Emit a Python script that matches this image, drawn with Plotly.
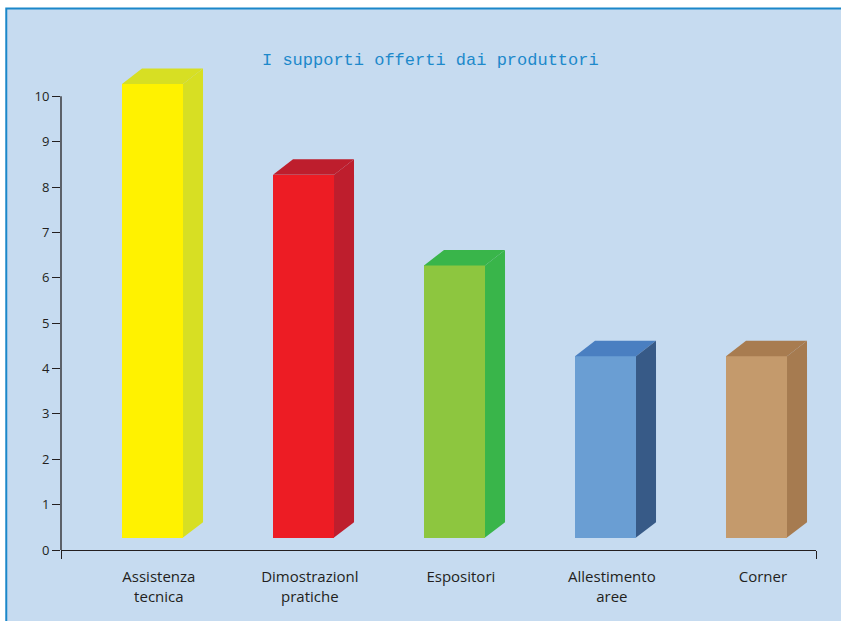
import plotly.graph_objects as go

# Chart data
categories = ["Assistenza<br>tecnica", "Dimostrazionl<br>pratiche", "Espositori",
              "Allestimento<br>aree", "Corner"]
values = [10, 8, 6, 4, 4]
y_ticks = list(range(0, 11))

# Face colours of each 3D column: front, top, side
front_colors = ["#fff200", "#ed1c24", "#8dc63f", "#6a9ed3", "#c49a6c"]
top_colors = ["#d7df23", "#be1e2d", "#39b54a", "#4a7fc1", "#a87c50"]
side_colors = ["#d7df23", "#be1e2d", "#39b54a", "#375a87", "#a67b50"]

# Geometry in axis units
BAR_START = 0.404     # left edge of the front face inside a category slot
BAR_WIDTH = 0.404
DEPTH_X = 0.1325
DEPTH_Y = 0.34
BASE = 0.273          # columns float slightly above the zero line
LABEL_POS = 0.648

INK = "#231f20"

fig = go.Figure()

# Front faces
fig.add_trace(go.Bar(
    x=[i + BAR_START + BAR_WIDTH / 2 for i in range(len(values))],
    y=values,
    base=[BASE] * len(values),
    width=BAR_WIDTH,
    marker=dict(color=front_colors, line=dict(width=0)),
    showlegend=False,
    hoverinfo="skip",
))

# Top and side faces, computed from each value
for i, v in enumerate(values):
    x0 = i + BAR_START
    x1 = x0 + BAR_WIDTH
    top = BASE + v
    fig.add_trace(go.Scatter(
        x=[x0, x1, x1 + DEPTH_X, x0 + DEPTH_X, x0],
        y=[top, top, top + DEPTH_Y, top + DEPTH_Y, top],
        fill="toself", fillcolor=top_colors[i], mode="lines",
        line=dict(width=0, color=top_colors[i]),
        showlegend=False, hoverinfo="skip",
    ))
    fig.add_trace(go.Scatter(
        x=[x1, x1 + DEPTH_X, x1 + DEPTH_X, x1, x1],
        y=[BASE, BASE + DEPTH_Y, top + DEPTH_Y, top, BASE],
        fill="toself", fillcolor=side_colors[i], mode="lines",
        line=dict(width=0, color=side_colors[i]),
        showlegend=False, hoverinfo="skip",
    ))

# Light blue panel with a blue frame
fig.add_shape(type="rect", xref="paper", yref="paper",
              x0=-0.0725, x1=1.1, y0=-0.25, y1=1.105,
              fillcolor="#c6dbf0", line=dict(color="#1b87c9", width=2),
              layer="below")

# Vertical axis line running from 0 to 10
fig.add_shape(type="line", xref="paper", yref="y",
              x0=0, x1=0, y0=0, y1=10,
              line=dict(color=INK, width=1.3), layer="above")

fig.add_annotation(
    text="I supporti offerti dai produttori",
    xref="paper", yref="paper", x=0.49, y=1.0,
    xanchor="center", yanchor="middle", showarrow=False,
    font=dict(family="Liberation Mono", size=17, color="#1d89cb"),
)

fig.update_layout(
    width=841, height=621,
    margin=dict(l=61, r=25, t=60, b=71),
    paper_bgcolor="white",
    plot_bgcolor="rgba(0,0,0,0)",
    bargap=0,
    showlegend=False,
    xaxis=dict(
        range=[0, 5],
        tickmode="array",
        tickvals=[i + LABEL_POS for i in range(len(categories))],
        ticktext=categories,
        ticks="",
        ticklabelstandoff=13,
        tickfont=dict(family="Open Sans", size=15, color=INK),
        showline=True, linecolor=INK, linewidth=1.3,
        showgrid=False, zeroline=False,
        minor=dict(tickmode="array", tickvals=[0, 5], ticks="outside",
                   ticklen=8, tickwidth=1.3, tickcolor=INK, showgrid=False),
        fixedrange=True,
    ),
    yaxis=dict(
        range=[0, 10.8],
        tickmode="array",
        tickvals=y_ticks,
        ticks="outside", ticklen=8, tickwidth=1.3, tickcolor=INK,
        tickfont=dict(family="Open Sans", size=13, color=INK),
        showline=False, showgrid=False, zeroline=False,
        fixedrange=True,
    ),
)

fig.write_html("out.html")
